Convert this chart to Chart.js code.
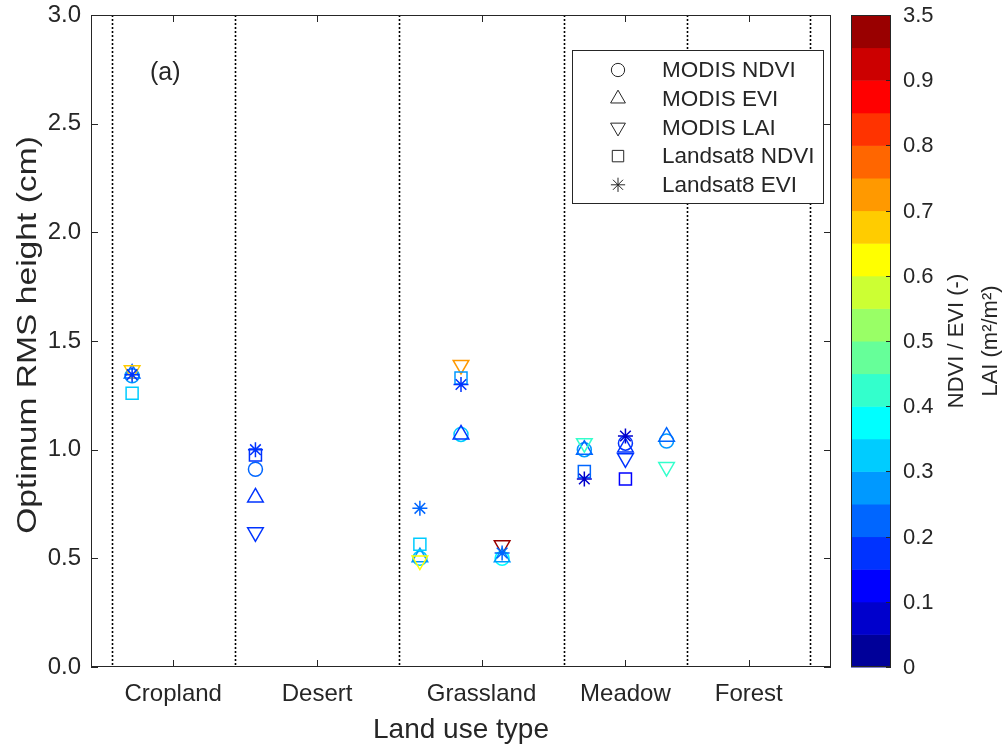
<!DOCTYPE html>
<html>
<head>
<meta charset="utf-8">
<script src="https://cdn.jsdelivr.net/npm/chart.js@4/dist/chart.umd.min.js"></script>
<style>
  html, body { margin: 0; padding: 0; background: #fff; }
  #wrap { width: 1006px; height: 749px; }
</style>
</head>
<body>
<div id="wrap"><canvas id="rmsChart" width="1006" height="749"></canvas></div>
<script>
// land use classes, their label positions and the dotted separators
const landUse = ['Cropland', 'Desert', 'Grassland', 'Meadow', 'Forest'];
const landUseTickX = [4, 11, 19, 26, 32];
const boundaryX = [1, 7, 15, 23, 29, 35];

// sites along the x axis
const siteX = [2, 8, 16, 18, 20, 24, 26, 28];

// optimum RMS height (cm) at each site
const modisNdvi   = [1.34, 0.91, 0.50, 1.07, 0.50, 1.00, 1.03, 1.04];
const modisEvi    = [1.35, 0.78, 0.505, 1.07, 0.505, 1.00, 1.01, 1.06];
const modisLai    = [1.365, 0.62, 0.49, 1.39, 0.56, 1.03, 0.96, 0.92];
const landsatNdvi = [1.26, 0.975, 0.565, 1.33, null, 0.90, 0.865, null];
const landsatEvi  = [1.345, 1.00, 0.73, 1.30, 0.525, 0.865, 1.063, null];

// vegetation index value behind each marker colour (colour bar position, 0-1)
const modisNdviLevel   = [0.27, 0.22, 0.32, 0.32, 0.37, 0.27, 0.17, 0.27];
const modisEviLevel    = [0.22, 0.17, 0.27, 0.17, 0.27, 0.22, 0.17, 0.22];
const modisLaiLevel    = [0.67, 0.17, 0.62, 0.72, 0.97, 0.42, 0.17, 0.42];
const landsatNdviLevel = [0.32, 0.17, 0.32, 0.27, null, 0.22, 0.12, null];
const landsatEviLevel  = [0.17, 0.17, 0.24, 0.17, 0.22, 0.07, 0.07, null];

// colour bar, bottom to top, and its labels
const barColors = ['#000099', '#0000cc', '#0000ff', '#0033ff', '#0066ff', '#0099ff', '#00ccff',
  '#00ffff', '#33ffcc', '#66ff99', '#99ff66', '#ccff33', '#ffff00', '#ffcc00', '#ff9900',
  '#ff6600', '#ff3300', '#ff0000', '#cc0000', '#990000'];
const barTicks = ['0', '0.1', '0.2', '0.3', '0.4', '0.5', '0.6', '0.7', '0.8', '0.9', '3.5'];

const FONT = '"Liberation Sans", Arial, Helvetica, sans-serif';
const INK = '#262626';

function levelColor(level) {
  if (level === null) return 'rgba(0,0,0,0)';
  const i = Math.min(barColors.length - 1, Math.max(0, Math.floor(level / 0.05)));
  return barColors[i];
}

const series = [
  { label: 'MODIS NDVI', values: modisNdvi, levels: modisNdviLevel, style: 'circle', radius: 7, rotation: 0 },
  { label: 'MODIS EVI', values: modisEvi, levels: modisEviLevel, style: 'triangle', radius: 9, rotation: 0 },
  { label: 'MODIS LAI', values: modisLai, levels: modisLaiLevel, style: 'triangle', radius: 9, rotation: 180 },
  { label: 'Landsat8 NDVI', values: landsatNdvi, levels: landsatNdviLevel, style: 'rect', radius: 8.5, rotation: 0 },
  { label: 'Landsat8 EVI', values: landsatEvi, levels: landsatEviLevel, style: 'star', radius: 7.5, rotation: 0 }
];

const datasets = series.map((s, k) => ({
  label: s.label,
  data: siteX.map((x, i) => ({ x: x, y: s.values[i] })),
  showLine: false,
  pointStyle: s.style,
  pointRadius: s.radius,
  pointRotation: s.rotation,
  pointBorderWidth: 1.5,
  pointBorderColor: s.levels.map(levelColor),
  pointBackgroundColor: 'rgba(0,0,0,0)',
  order: series.length - k   // later series end up on top
}));

// dotted separators between land use classes
const separators = {
  id: 'separators',
  beforeDatasetsDraw(chart) {
    const { ctx, chartArea: a, scales: { x } } = chart;
    ctx.save();
    ctx.strokeStyle = '#000';
    ctx.lineWidth = 1.6;
    ctx.setLineDash([2, 2]);
    boundaryX.forEach(v => {
      const px = Math.round(x.getPixelForValue(v)) + 0.5;
      ctx.beginPath();
      ctx.moveTo(px, a.top);
      ctx.lineTo(px, a.bottom);
      ctx.stroke();
    });
    ctx.restore();
  }
};

// box round the axes with inward tick marks on all four sides
const axisFrame = {
  id: 'axisFrame',
  afterDatasetsDraw(chart) {
    const { ctx, chartArea: a, scales: { x, y } } = chart;
    const len = 7;
    ctx.save();
    ctx.strokeStyle = INK;
    ctx.lineWidth = 1;
    ctx.strokeRect(a.left + 0.5, a.top + 0.5, a.right - a.left - 1, a.bottom - a.top - 1);
    ctx.beginPath();
    y.ticks.forEach(t => {
      const py = Math.round(y.getPixelForValue(t.value)) + 0.5;
      ctx.moveTo(a.left, py); ctx.lineTo(a.left + len, py);
      ctx.moveTo(a.right, py); ctx.lineTo(a.right - len, py);
    });
    landUseTickX.forEach(v => {
      const px = Math.round(x.getPixelForValue(v)) + 0.5;
      ctx.moveTo(px, a.bottom); ctx.lineTo(px, a.bottom - len);
      ctx.moveTo(px, a.top); ctx.lineTo(px, a.top + len);
    });
    ctx.stroke();
    ctx.restore();
  }
};

// y axis title, drawn by hand so it can be stretched along its length
const yTitle = {
  id: 'yTitle',
  afterDraw(chart) {
    const { ctx, chartArea: a } = chart;
    ctx.save();
    ctx.translate(28, (a.top + a.bottom) / 2 - 6);
    ctx.rotate(-Math.PI / 2);
    ctx.scale(1.2, 1);
    ctx.fillStyle = INK;
    ctx.font = '28px ' + FONT;
    ctx.textAlign = 'center';
    ctx.textBaseline = 'middle';
    ctx.fillText('Optimum RMS height (cm)', 0, 0);
    ctx.restore();
  }
};

// panel letter, marker key and colour bar
const extras = {
  id: 'extras',
  afterDraw(chart) {
    const { ctx, chartArea: a } = chart;
    ctx.save();

    ctx.fillStyle = INK;
    ctx.font = '25px ' + FONT;
    ctx.textAlign = 'left';
    ctx.textBaseline = 'middle';
    ctx.fillText('(a)', a.left + 59, a.top + 58);

    // key
    const bx = 572, by = 50, bw = 251, bh = 153;
    ctx.fillStyle = '#fff';
    ctx.fillRect(bx, by, bw, bh);
    ctx.strokeStyle = INK;
    ctx.lineWidth = 1;
    ctx.strokeRect(bx + 0.5, by + 0.5, bw, bh);
    series.forEach((s, i) => {
      const ry = by + 20 + i * 28.7;
      ctx.fillStyle = 'rgba(0,0,0,0)';
      ctx.strokeStyle = INK;
      ctx.lineWidth = 1;
      Chart.helpers.drawPoint(ctx, {
        pointStyle: s.style, radius: s.radius * 0.95, rotation: s.rotation, borderWidth: 1
      }, bx + 46, ry);
      ctx.fillStyle = INK;
      ctx.font = '22.5px ' + FONT;
      ctx.textAlign = 'left';
      ctx.textBaseline = 'middle';
      ctx.fillText(s.label, bx + 90, ry + 1);
    });

    // colour bar
    const cx = 851, cw = 40, top = a.top, bottom = a.bottom;
    const seg = (bottom - top) / barColors.length;
    barColors.forEach((c, i) => {
      ctx.fillStyle = c;
      ctx.fillRect(cx, bottom - (i + 1) * seg, cw, seg + 0.5);
    });
    ctx.strokeStyle = INK;
    ctx.lineWidth = 1;
    ctx.strokeRect(cx + 0.5, top + 0.5, cw - 1, bottom - top - 1);
    ctx.font = '22px ' + FONT;
    ctx.fillStyle = INK;
    ctx.textAlign = 'left';
    ctx.textBaseline = 'middle';
    const step = (bottom - top) / (barTicks.length - 1);
    barTicks.forEach((t, i) => {
      const py = Math.round(bottom - i * step) + 0.5;
      ctx.beginPath();
      ctx.moveTo(cx + cw, py);
      ctx.lineTo(cx + cw - 5, py);
      ctx.stroke();
      ctx.fillText(t, cx + 52, bottom - i * step + 1);
    });

    ctx.translate(0, (top + bottom) / 2);
    ctx.rotate(-Math.PI / 2);
    ctx.textAlign = 'center';
    ctx.fillText('NDVI / EVI (-)', 0, 957);
    ctx.fillText('LAI (m\u00b2/m\u00b2)', 0, 991);
    ctx.restore();
  }
};

new Chart(document.getElementById('rmsChart').getContext('2d'), {
  type: 'scatter',
  data: { datasets: datasets },
  options: {
    responsive: false,
    animation: false,
    events: [],
    layout: { padding: { top: 15, right: 175, left: 0, bottom: 0 } },
    plugins: {
      legend: { display: false },
      tooltip: { enabled: false }
    },
    scales: {
      x: {
        type: 'linear',
        min: 0,
        max: 36,
        afterBuildTicks: scale => { scale.ticks = landUseTickX.map(v => ({ value: v })); },
        afterFit: scale => {
          scale.height = 82;
          scale.paddingLeft = 0;
          scale.paddingRight = 0;
        },
        grid: { display: false, drawTicks: false },
        border: { display: false },
        ticks: {
          autoSkip: false,
          maxRotation: 0,
          padding: 13,
          color: INK,
          font: { size: 24, family: FONT },
          callback: (v, i) => landUse[i]
        },
        title: {
          display: true,
          text: 'Land use type',
          color: INK,
          font: { size: 28, family: FONT },
          padding: { top: 0, bottom: 2 }
        }
      },
      y: {
        min: 0,
        max: 3,
        afterFit: scale => {
          scale.width = 91;
          scale.paddingTop = 0;
          scale.paddingBottom = 0;
        },
        grid: { display: false, drawTicks: false },
        border: { display: false },
        ticks: {
          stepSize: 0.5,
          padding: 10,
          color: INK,
          font: { size: 24, family: FONT },
          callback: v => v.toFixed(1)
        }
      }
    }
  },
  plugins: [separators, axisFrame, yTitle, extras]
});
</script>
</body>
</html>
